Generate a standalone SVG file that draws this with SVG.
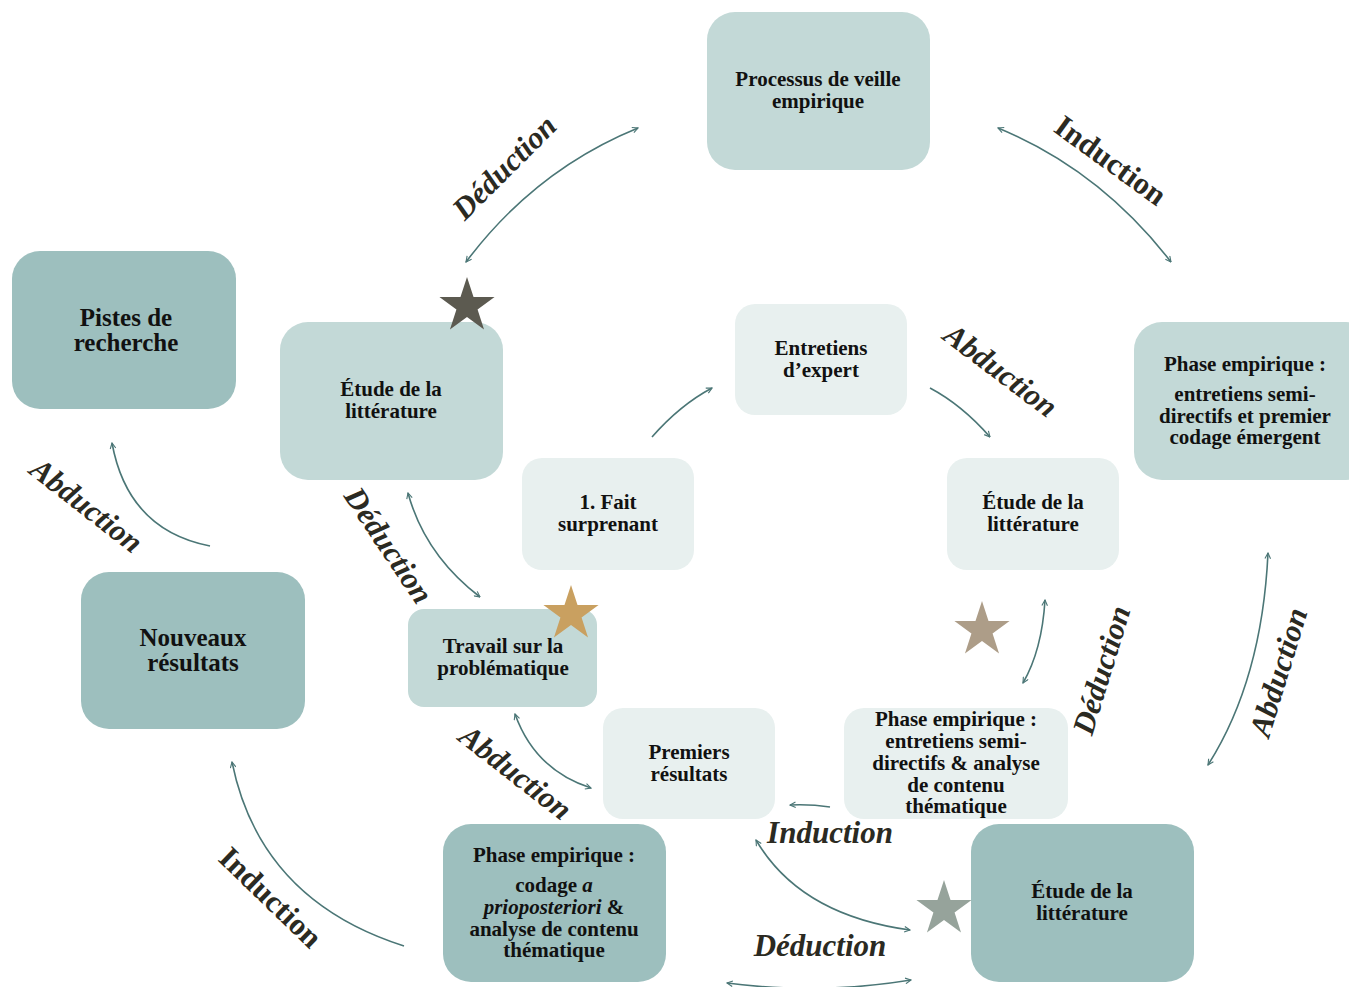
<svg xmlns="http://www.w3.org/2000/svg" width="1349" height="987" viewBox="0 0 1349 987">
<defs>
<marker id="arr" viewBox="0 0 10 10" refX="9" refY="5" markerWidth="7" markerHeight="7" markerUnits="userSpaceOnUse" orient="auto-start-reverse">
<path d="M1,1 L9,5 L1,9" fill="none" stroke="#4b7676" stroke-width="1.6"/>
</marker>
<polygon id="star" points="0,-29 6.53,-8.98 27.58,-8.96 10.56,3.43 17.05,23.46 0,11.1 -17.05,23.46 -10.56,3.43 -27.58,-8.96 -6.53,-8.98"/>
</defs>
<style>
.n1{fill:#c3d9d7}
.n2{fill:#e8f0ef}
.n3{fill:#9dbfbe}
.t{font-family:"Liberation Serif","DejaVu Serif",serif;font-weight:bold;font-size:21px;fill:#111;text-anchor:middle}
.tb{font-size:25px}
.c{fill:none;stroke:#4b7676;stroke-width:1.6}
.l{font-family:"Liberation Serif","DejaVu Serif",serif;font-weight:bold;font-style:italic;font-size:31px;fill:#2b2a22;text-anchor:middle}
.lu{font-style:normal}
</style>
<rect width="1349" height="987" fill="#fff"/>

<g id="n-veille"><rect class="n1" x="707" y="12" width="223" height="158" rx="28"/>
<text class="t" x="818" y="86">Processus de veille</text><text class="t" x="818" y="108">empirique</text></g>

<g id="n-phase1"><rect class="n1" x="1134" y="322" width="240" height="158" rx="28"/>
<text class="t" x="1245" y="371">Phase empirique :</text><text class="t" x="1245" y="401">entretiens semi-</text><text class="t" x="1245" y="423">directifs et premier</text><text class="t" x="1245" y="444">codage émergent</text></g>

<g id="n-pistes"><rect class="n3" x="12" y="251" width="224" height="158" rx="28"/>
<text class="t tb" x="126" y="326">Pistes de</text><text class="t tb" x="126" y="351">recherche</text></g>

<g id="n-etude1"><rect class="n1" x="280" y="322" width="223" height="158" rx="28"/>
<text class="t" x="391" y="396">Étude de la</text><text class="t" x="391" y="418">littérature</text></g>

<g id="n-entretiens"><rect class="n2" x="735" y="304" width="172" height="111" rx="20"/>
<text class="t" x="821" y="355">Entretiens</text><text class="t" x="821" y="377">d’expert</text></g>

<g id="n-fait"><rect class="n2" x="522" y="458" width="172" height="112" rx="20"/>
<text class="t" x="608" y="509">1. Fait</text><text class="t" x="608" y="531">surprenant</text></g>

<g id="n-etude2"><rect class="n2" x="947" y="458" width="172" height="112" rx="20"/>
<text class="t" x="1033" y="509">Étude de la</text><text class="t" x="1033" y="531">littérature</text></g>

<g id="n-nouveaux"><rect class="n3" x="81" y="572" width="224" height="157" rx="28"/>
<text class="t tb" x="193" y="646">Nouveaux</text><text class="t tb" x="193" y="671">résultats</text></g>

<g id="n-travail"><rect class="n1" x="408" y="609" width="189" height="98" rx="16"/>
<text class="t" x="503" y="653">Travail sur la</text><text class="t" x="503" y="675">problématique</text></g>

<g id="n-premiers"><rect class="n2" x="603" y="708" width="172" height="111" rx="20"/>
<text class="t" x="689" y="759">Premiers</text><text class="t" x="689" y="781">résultats</text></g>

<g id="n-phase2"><rect class="n2" x="844" y="708" width="224" height="111" rx="20"/>
<text class="t" x="956" y="726">Phase empirique :</text><text class="t" x="956" y="748">entretiens semi-</text><text class="t" x="956" y="770">directifs &amp; analyse</text><text class="t" x="956" y="792">de contenu</text><text class="t" x="956" y="813">thématique</text></g>

<g id="n-phase3"><rect class="n3" x="443" y="824" width="223" height="158" rx="28"/>
<text class="t" x="554" y="862">Phase empirique :</text><text class="t" x="554" y="892">codage <tspan font-style="italic">a</tspan></text><text class="t" x="554" y="914"><tspan font-style="italic">prioposteriori</tspan> &amp;</text><text class="t" x="554" y="936">analyse de contenu</text><text class="t" x="554" y="957">thématique</text></g>

<g id="n-etude3"><rect class="n3" x="971" y="824" width="223" height="158" rx="28"/>
<text class="t" x="1082" y="898">Étude de la</text><text class="t" x="1082" y="920">littérature</text></g>

<g id="stars">
<use href="#star" x="467" y="306" fill="#5c5a50"/>
<use href="#star" x="571" y="614" fill="#c9a060"/>
<use href="#star" x="982" y="630" fill="#ad9d88"/>
<use href="#star" x="944" y="909" fill="#96a39b"/>
</g>

<g id="connectors">
<path class="c" d="M466,262 Q535,170 638,128" marker-start="url(#arr)" marker-end="url(#arr)"/>
<path class="c" d="M998,128 Q1100,170 1171,262" marker-start="url(#arr)" marker-end="url(#arr)"/>
<path class="c" d="M1268,553 Q1262,680 1208,765" marker-start="url(#arr)" marker-end="url(#arr)"/>
<path class="c" d="M210,546 Q128,530 112,443" marker-end="url(#arr)"/>
<path class="c" d="M404,946 Q260,900 232,762" marker-end="url(#arr)"/>
<path class="c" d="M408,493 Q425,555 480,597" marker-start="url(#arr)" marker-end="url(#arr)"/>
<path class="c" d="M515,714 Q535,770 591,788" marker-start="url(#arr)" marker-end="url(#arr)"/>
<path class="c" d="M756,840 Q800,915 910,930" marker-start="url(#arr)" marker-end="url(#arr)"/>
<path class="c" d="M727,983 Q820,995 911,980" marker-start="url(#arr)" marker-end="url(#arr)"/>
<path class="c" d="M830,807 Q810,804 790,805" marker-end="url(#arr)"/>
<path class="c" d="M652,437 Q680,405 712,388" marker-end="url(#arr)"/>
<path class="c" d="M930,388 Q962,405 990,437" marker-end="url(#arr)"/>
<path class="c" d="M1045,600 Q1042,650 1023,683" marker-start="url(#arr)" marker-end="url(#arr)"/>
</g>

<g id="labels">
<text class="l" transform="translate(504,167) rotate(-45)" dy="0.35em">Déduction</text>
<text class="l lu" transform="translate(1111,160) rotate(36)" dy="0.35em">Induction</text>
<text class="l" transform="translate(1001,370) rotate(37)" dy="0.35em">Abduction</text>
<text class="l" transform="translate(87,505) rotate(38)" dy="0.35em">Abduction</text>
<text class="l" transform="translate(389,545) rotate(56)" dy="0.35em">Déduction</text>
<text class="l" transform="translate(516,772) rotate(38)" dy="0.35em">Abduction</text>
<text class="l lu" transform="translate(271,897) rotate(44)" dy="0.35em">Induction</text>
<text class="l" transform="translate(1101,670) rotate(-73)" dy="0.35em">Déduction</text>
<text class="l" transform="translate(1278,672) rotate(-73)" dy="0.35em">Abduction</text>
<text class="l" x="830" y="843">Induction</text>
<text class="l" x="820" y="956">Déduction</text>
</g>
</svg>
